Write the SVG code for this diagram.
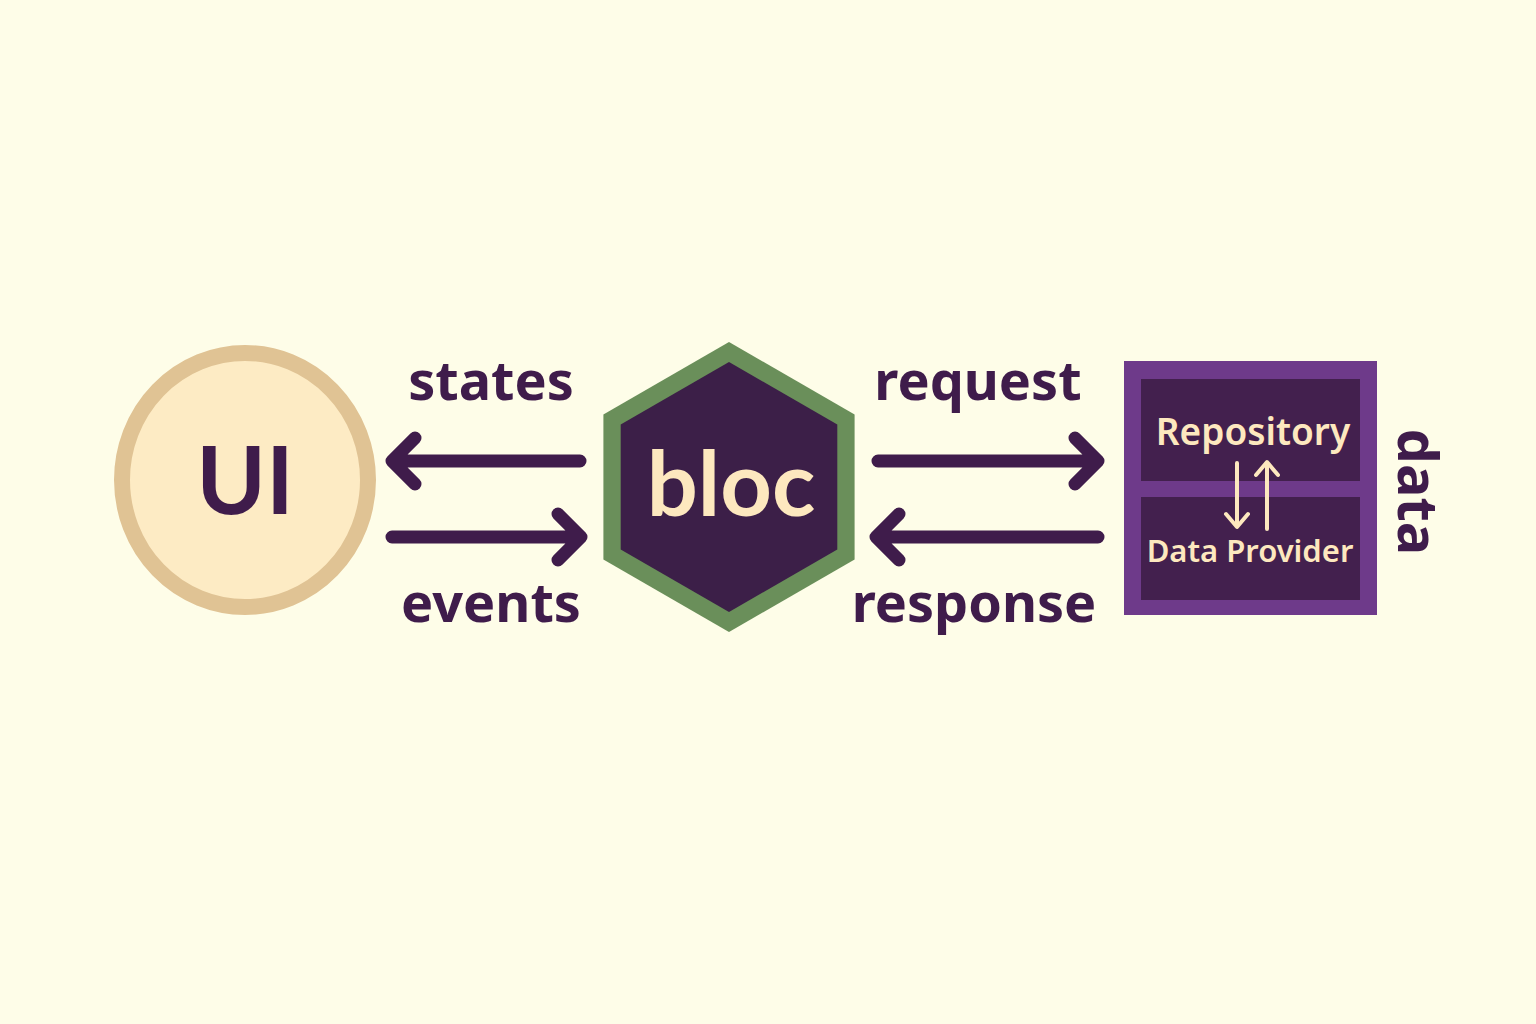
<svg xmlns="http://www.w3.org/2000/svg" width="1536" height="1024" viewBox="0 0 1536 1024">
<style>
.lbl{font-family:"Noto Sans","Liberation Sans",sans-serif;font-weight:700;fill:#3f1c4b;text-anchor:middle}
.arr{fill:none;stroke:#3f1c4b;stroke-width:13;stroke-linecap:round;stroke-linejoin:round}
.in{fill:none;stroke:#fde8bf;stroke-width:4;stroke-linecap:round;stroke-linejoin:round}
.box{font-family:"Noto Sans","Liberation Sans",sans-serif;font-weight:600;fill:#fde8bf;text-anchor:middle}
.big{font-family:Lato,"Noto Sans",sans-serif;font-weight:700;text-anchor:middle}
</style>
<rect width="1536" height="1024" fill="#fefde8"/>
<g id="ui">
<ellipse cx="245" cy="480" rx="123" ry="127" fill="#fdebc4" stroke="#e0c394" stroke-width="16"/>
<text x="245" y="514" class="big" font-size="94" fill="#3f1c4b">UI</text>
</g>
<g id="bloc">
<polygon points="729,342 854.6,414.5 854.6,559.5 729,632 603.4,559.5 603.4,414.5" fill="#6a8f5a"/>
<polygon points="729,362 837.3,424.5 837.3,549.5 729,612 620.7,549.5 620.7,424.5" fill="#3c1f48"/>
<text x="731" y="516" class="big" font-size="90" fill="#fde8bf">bloc</text>
</g>
<g id="data">
<rect x="1124" y="361" width="253" height="254" fill="#6e3a8a"/>
<rect x="1141" y="379" width="219" height="102" fill="#43204e"/>
<rect x="1141" y="497" width="219" height="103" fill="#43204e"/>
<text x="1253" y="445" class="box" font-size="37">Repository</text>
<text x="1250" y="562" class="box" font-size="31">Data Provider</text>
<path class="in" d="M1237,463 V526 M1226,514 L1237,527 L1248,514"/>
<path class="in" d="M1267,529 V463 M1256,475 L1267,462 L1278,475"/>
<text x="0" y="0" class="lbl" font-size="56" transform="translate(1398,492) rotate(90)">data</text>
</g>
<g id="connectors">
<path class="arr" d="M580,461 H396 M415,438 L392,461 L415,484"/>
<path class="arr" d="M392,537 H578 M558,514 L581,537 L558,560"/>
<path class="arr" d="M878,461 H1095 M1075,438 L1098,461 L1075,484"/>
<path class="arr" d="M1098,537 H880 M899,514 L876,537 L899,560"/>
<text x="491" y="400" class="lbl" font-size="54">states</text>
<text x="491" y="622" class="lbl" font-size="54">events</text>
<text x="978" y="400" class="lbl" font-size="54">request</text>
<text x="974" y="622" class="lbl" font-size="54">response</text>
</g>
</svg>
